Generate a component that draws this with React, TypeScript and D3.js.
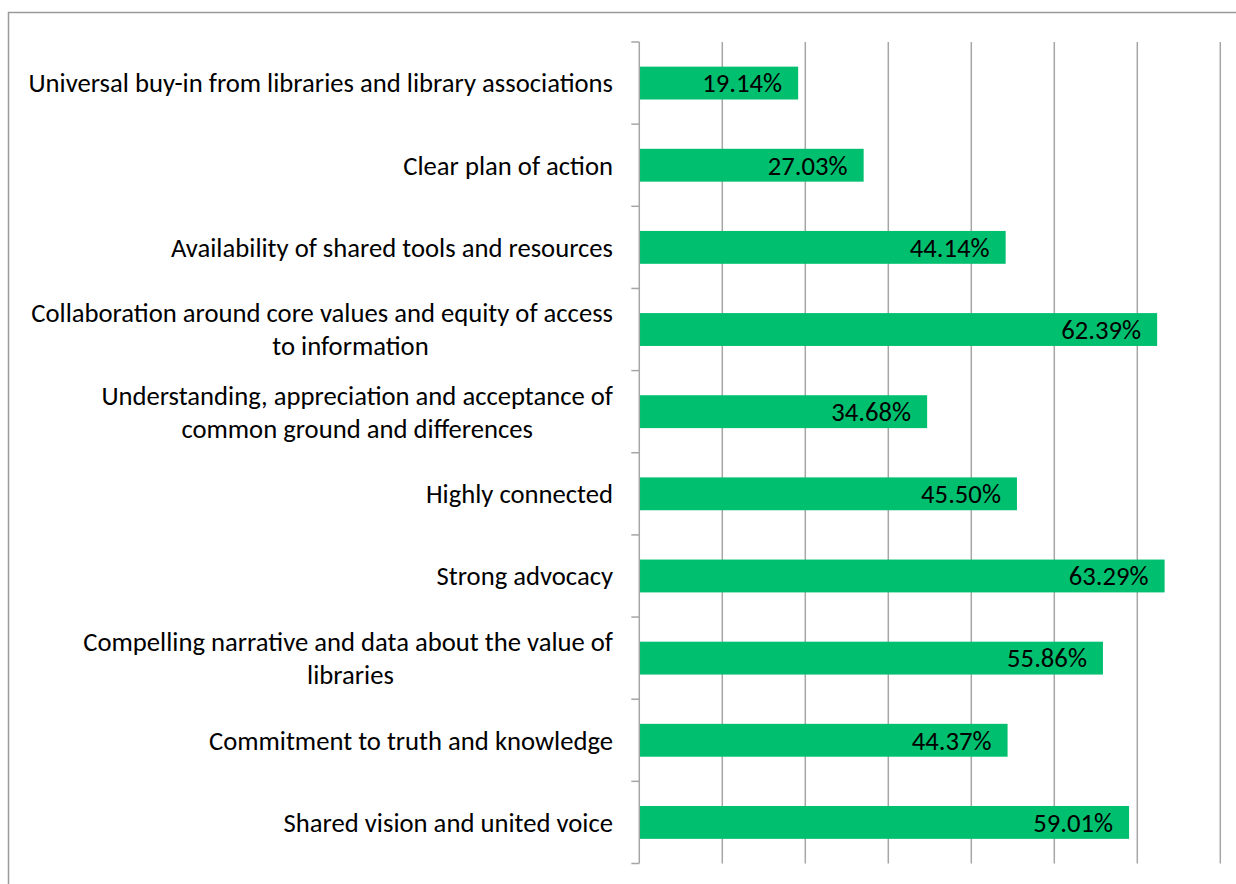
import * as d3 from "d3";
import {useEffect, useRef} from "react";

// categories top to bottom, each entry is the lines of the label
const categories: string[][] = [
  ["Universal buy-in from libraries and library associations"],
  ["Clear plan of action"],
  ["Availability of shared tools and resources"],
  ["Collaboration around core values and equity of access", "to information"],
  ["Understanding, appreciation and acceptance of", "common ground and differences"],
  ["Highly connected"],
  ["Strong advocacy"],
  ["Compelling narrative and data about the value of", "libraries"],
  ["Commitment to truth and knowledge"],
  ["Shared vision and united voice"],
];
const values = [19.14, 27.03, 44.14, 62.39, 34.68, 45.5, 63.29, 55.86, 44.37, 59.01];
const xTicks = [0, 10, 20, 30, 40, 50, 60, 70];

function App() {
  const ref = useRef<SVGSVGElement>(null);

  useEffect(() => {
    const svg = d3.select(ref.current);
    svg.selectAll("*").remove();

    const width = 1236;
    const height = 884;
    const left = 639.3;
    const right = 1220.3;
    const top = 42;
    const bottom = 863.5;
    const font = "Carlito, Calibri, Lato, sans-serif";
    const fontSize = 26.67;
    const grey = "#a6a6a6";
    const labelRight = 613;
    const wrapWidth = 525;

    // chart area border, runs off the page on right and bottom
    svg.append("rect")
      .attr("x", 8.5).attr("y", 12.5)
      .attr("width", width).attr("height", height)
      .attr("fill", "#fff")
      .attr("stroke", "#9a9a9a")
      .attr("stroke-width", 1.5);

    const x = d3.scaleLinear().domain([0, 70]).range([left, right]);
    const idx = values.map((_, i) => i);
    const y = d3.scaleBand<number>().domain(idx).range([top, bottom]).paddingInner(0.6).paddingOuter(0.3);
    const band = (bottom - top) / categories.length;

    // vertical gridlines
    svg.append("g")
      .selectAll("line")
      .data(xTicks.slice(1))
      .enter()
      .append("line")
        .attr("x1", d => x(d)).attr("x2", d => x(d))
        .attr("y1", top).attr("y2", bottom)
        .attr("stroke", grey)
        .attr("stroke-width", 1.5);

    // bars
    svg.append("g")
      .selectAll("rect")
      .data(values)
      .enter()
      .append("rect")
        .attr("x", x(0))
        .attr("y", (d, i) => y(i)!)
        .attr("width", d => x(d) - x(0))
        .attr("height", y.bandwidth())
        .attr("fill", "#00bf6f");

    // value labels, inside end
    svg.append("g")
      .selectAll("text")
      .data(values)
      .enter()
      .append("text")
        .attr("x", d => x(d) - 16)
        .attr("y", (d, i) => y(i)! + y.bandwidth() / 2)
        .attr("dy", "0.35em")
        .attr("text-anchor", "end")
        .attr("font-family", font)
        .attr("font-size", fontSize)
        .attr("fill", "#000")
        .text(d => d.toFixed(2) + "%");

    // category axis line and ticks between categories
    svg.append("line")
      .attr("x1", left).attr("x2", left)
      .attr("y1", top).attr("y2", bottom)
      .attr("stroke", grey).attr("stroke-width", 1.5);
    svg.append("g")
      .selectAll("line")
      .data(d3.range(categories.length + 1))
      .enter()
      .append("line")
        .attr("x1", left - 8).attr("x2", left)
        .attr("y1", d => top + d * band).attr("y2", d => top + d * band)
        .attr("stroke", grey).attr("stroke-width", 1.5);

    // category labels: first line right aligned, wrapped lines centred under it
    const lineH = 33;
    const lbl = svg.append("g")
      .selectAll("text")
      .data(categories)
      .enter()
      .append("text")
        .attr("font-family", font)
        .attr("font-size", fontSize)
        .attr("fill", "#000");
    lbl.each(function (lines, i) {
      const cy = y(i)! + y.bandwidth() / 2;
      const t = d3.select(this);
      let center = labelRight;
      lines.forEach((s, k) => {
        const span = t.append("tspan")
          .attr("y", cy + (k - (lines.length - 1) / 2) * lineH)
          .attr("dy", "0.35em")
          .text(s);
        if (k === 0) {
          span.attr("x", labelRight).attr("text-anchor", "end");
          const w = (span.node() as SVGTSpanElement).getComputedTextLength();
          center = labelRight - Math.min(w, wrapWidth) / 2;
        } else {
          span.attr("x", center).attr("text-anchor", "middle");
        }
      });
    });
  });

  return (
    <svg ref={ref} width={1236} height={884}
      style={{position: "absolute", left: 0, top: 0, display: "block"}} />
  );
}

export default App;
